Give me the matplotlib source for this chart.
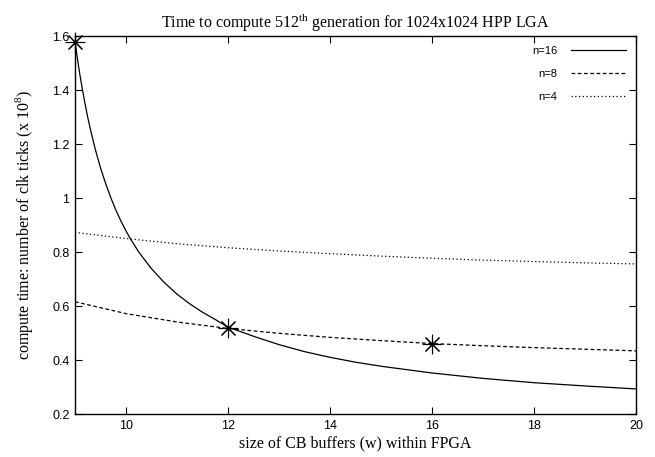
#!/usr/bin/env python3

import matplotlib
matplotlib.use("Agg")
import matplotlib.pyplot as plt

plt.rcParams['font.family'] = ['Liberation Sans', 'DejaVu Sans']
plt.rcParams['mathtext.fontset'] = 'custom'
plt.rcParams['mathtext.rm'] = 'Liberation Serif'

# data (units of 10^8 clk ticks)

w16 = [9, 9.05, 9.1, 9.15, 9.2, 9.25, 9.3, 9.4, 9.5, 9.6, 9.7, 9.8, 9.9,
       10, 10.1, 10.25, 10.5, 10.75, 11, 11.25, 11.5, 11.75, 12, 12.5, 13,
       13.5, 14, 14.5, 15, 16, 17, 18, 19, 20]
t16 = [1.58, 1.513, 1.452, 1.397, 1.346, 1.299, 1.256, 1.179, 1.112, 1.054,
       1.002, 0.956, 0.915, 0.878, 0.845, 0.800, 0.738, 0.687, 0.644, 0.608,
       0.577, 0.550, 0.522, 0.488, 0.457, 0.431, 0.410, 0.392, 0.377, 0.352,
       0.332, 0.316, 0.304, 0.293]

w8 = [9, 10, 11, 12, 13, 14, 15, 16, 17, 18, 19, 20]
t8 = [0.616, 0.572, 0.541, 0.517, 0.499, 0.484, 0.472, 0.461, 0.453, 0.446,
      0.440, 0.434]

w4 = [9, 10, 11, 12, 13, 14, 15, 16, 17, 18, 19, 20]
t4 = [0.873, 0.850, 0.831, 0.816, 0.804, 0.794, 0.785, 0.777, 0.770, 0.765,
      0.760, 0.756]

# measured points (stars)
wpts = [9, 12, 16]
tpts = [1.58, 0.517, 0.459]

xticks = [10, 12, 14, 16, 18, 20]
yticks = [0.2, 0.4, 0.6, 0.8, 1.0, 1.2, 1.4, 1.6]
yticklabels = ["0.2", "0.4", "0.6", "0.8", "1", "1.2", "1.4", "1.6"]

fig = plt.figure(figsize=(6.55, 4.57), dpi=100)
ax = fig.add_axes([0.1145, 0.094, 0.857, 0.827])

ax.plot(w16, t16, color="black", lw=0.9, ls="-", label="n=16")
ax.plot(w8, t8, color="black", lw=0.9, ls=(0, (3, 2)), label="n=8")
ax.plot(w4, t4, color="black", lw=0.9, ls=(0, (1, 2)), label="n=4")
ax.plot(wpts, tpts, ls="none", marker=(8, 2, 0), ms=14, mew=0.8,
        color="black", clip_on=False)

ax.set_xlim(9, 20)
ax.set_ylim(0.2, 1.6)
ax.set_xticks(xticks)
ax.set_yticks(yticks)
ax.set_yticklabels(yticklabels)
ax.tick_params(direction="in", top=True, right=True, length=5, width=0.8,
               labelsize=9, pad=4)
for s in ax.spines.values():
    s.set_linewidth(1.0)

ax.set_title("Time to compute 512$^{\\mathrm{th}}$ generation for 1024x1024 HPP LGA",
             family="Liberation Serif", fontsize=11.5, pad=6)
ax.set_xlabel("size of CB buffers (w) within FPGA", family="Liberation Serif",
              fontsize=11.5, labelpad=3)
ax.set_ylabel("compute time: number of clk ticks (x 10$^{8}$)",
              family="Liberation Serif", fontsize=11.5, labelpad=12)

ax.legend(loc="upper right", frameon=False, markerfirst=False, fontsize=8,
          handlelength=5.0, labelspacing=1.15, borderaxespad=0.5,
          handletextpad=1.2)

fig.savefig("out.png", dpi=100)
